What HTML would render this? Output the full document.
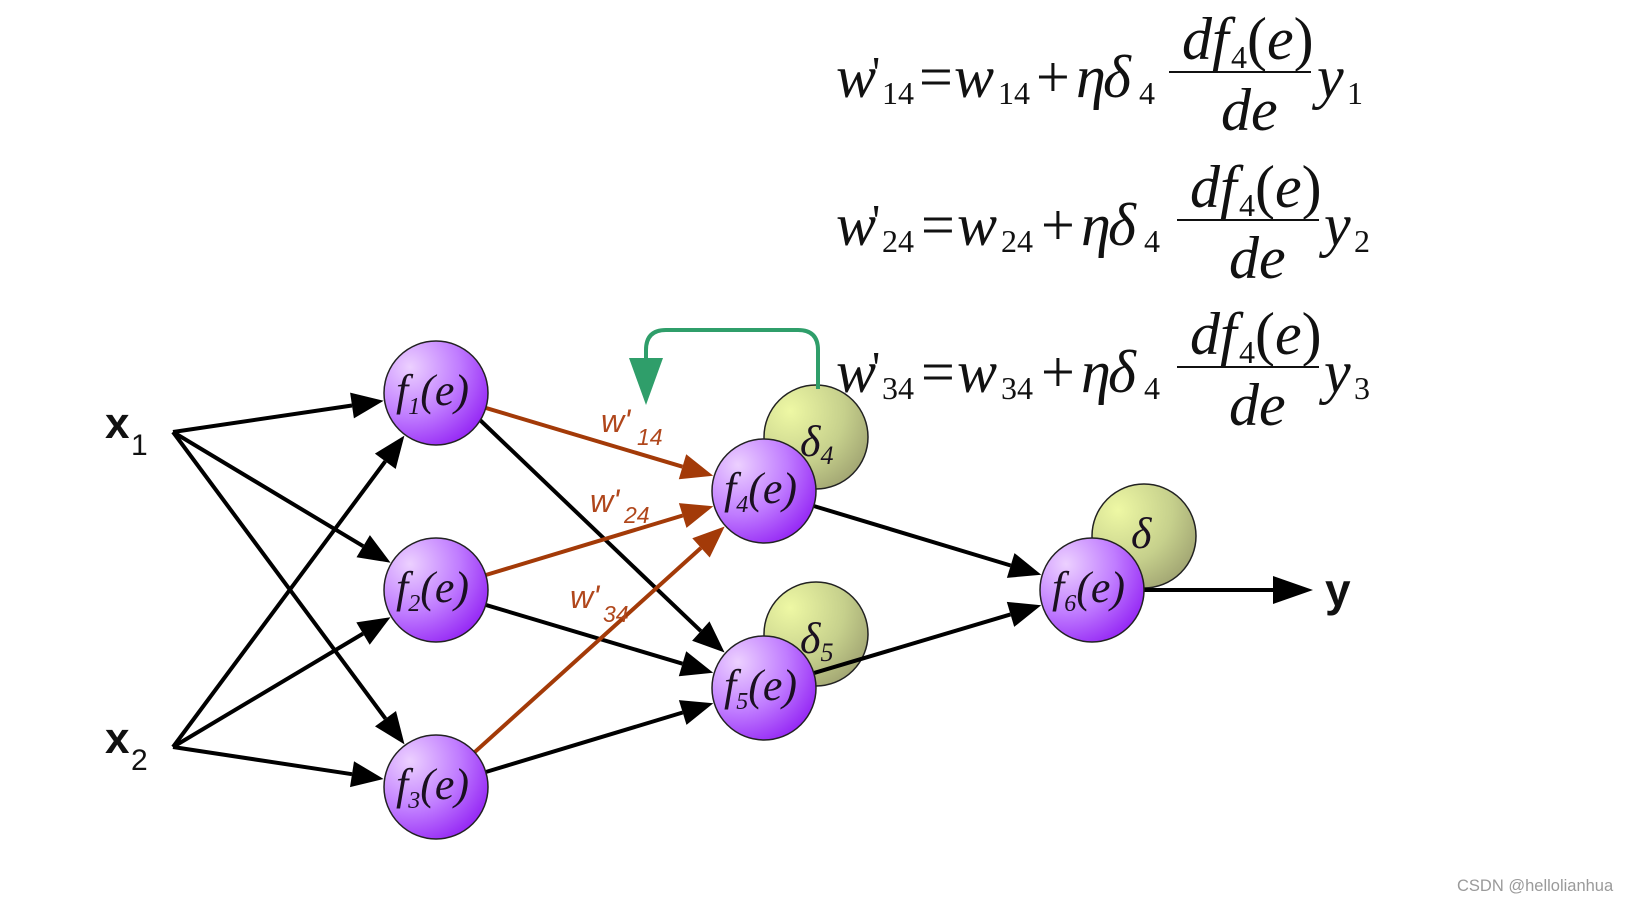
<!DOCTYPE html>
<html><head><meta charset="utf-8"><style>
html,body{margin:0;padding:0;background:#fff;}
svg{display:block;}
.eq{font-family:"Liberation Serif",serif;font-size:60px;fill:#111;}
.it{font-style:italic;}
.sub{font-size:32px;font-style:normal;}
.wl{font-family:"Liberation Sans",sans-serif;font-style:italic;fill:#b0471c;}
.fl{font-family:"Liberation Serif",serif;font-style:italic;font-size:44px;fill:#1a1020;}
</style></head><body>
<svg width="1632" height="901" viewBox="0 0 1632 901" xmlns="http://www.w3.org/2000/svg">
<defs>
<radialGradient id="pg" cx="0.25" cy="0.25" r="0.95">
<stop offset="0" stop-color="#ecd0ff"/><stop offset="0.5" stop-color="#c07cff"/><stop offset="1" stop-color="#8a12f2"/>
</radialGradient>
<radialGradient id="gg" cx="0.25" cy="0.25" r="0.95">
<stop offset="0" stop-color="#eef8a4"/><stop offset="0.55" stop-color="#c6d08c"/><stop offset="1" stop-color="#989a6c"/>
</radialGradient>
</defs>

<g class="eq">
<g>
<text x="836" y="97" class="it">w</text><text x="872" y="88" font-size="46">'</text>
<text x="882" y="104" class="sub">14</text>
<text x="919" y="97">=</text>
<text x="954" y="97" class="it">w</text><text x="998" y="104" class="sub">14</text>
<text x="1036" y="97">+</text>
<text x="1076" y="97" class="it">η</text><text x="1103" y="97" class="it">δ</text><text x="1139" y="104" class="sub">4</text>
<line x1="1169" y1="72" x2="1311" y2="72" stroke="#111" stroke-width="2"/>
<text x="1182" y="59" class="it">df</text><text x="1231" y="68" class="sub">4</text><text x="1247" y="59">(<tspan class="it">e</tspan>)</text>
<text x="1221" y="130" class="it">de</text>
<text x="1317" y="97" class="it">y</text><text x="1347" y="104" class="sub">1</text>
</g>
<g transform="translate(0,148)">
<text x="836" y="97" class="it">w</text><text x="872" y="88" font-size="46">'</text>
<text x="882" y="104" class="sub">24</text>
<text x="921" y="97">=</text>
<text x="957" y="97" class="it">w</text><text x="1001" y="104" class="sub">24</text>
<text x="1041" y="97">+</text>
<text x="1081" y="97" class="it">η</text><text x="1108" y="97" class="it">δ</text><text x="1144" y="104" class="sub">4</text>
<line x1="1177" y1="72" x2="1319" y2="72" stroke="#111" stroke-width="2"/>
<text x="1190" y="59" class="it">df</text><text x="1239" y="68" class="sub">4</text><text x="1255" y="59">(<tspan class="it">e</tspan>)</text>
<text x="1229" y="130" class="it">de</text>
<text x="1324" y="97" class="it">y</text><text x="1354" y="104" class="sub">2</text>
</g>
<g transform="translate(0,295)">
<text x="836" y="97" class="it">w</text><text x="872" y="88" font-size="46">'</text>
<text x="882" y="104" class="sub">34</text>
<text x="921" y="97">=</text>
<text x="957" y="97" class="it">w</text><text x="1001" y="104" class="sub">34</text>
<text x="1041" y="97">+</text>
<text x="1081" y="97" class="it">η</text><text x="1108" y="97" class="it">δ</text><text x="1144" y="104" class="sub">4</text>
<line x1="1177" y1="72" x2="1319" y2="72" stroke="#111" stroke-width="2"/>
<text x="1190" y="59" class="it">df</text><text x="1239" y="68" class="sub">4</text><text x="1255" y="59">(<tspan class="it">e</tspan>)</text>
<text x="1229" y="130" class="it">de</text>
<text x="1324" y="97" class="it">y</text><text x="1354" y="104" class="sub">3</text>
</g>
</g>

<g stroke="#222" stroke-width="1.5" fill="url(#gg)">
<circle cx="816" cy="437" r="52"/>
<circle cx="816" cy="634" r="52"/>
<circle cx="1144" cy="536" r="52"/>
</g>
<g class="fl">
<text x="800" y="456">δ<tspan font-size="26" dy="8">4</tspan></text>
<text x="800" y="653">δ<tspan font-size="26" dy="8">5</tspan></text>
<text x="1131" y="548">δ</text>
</g>

<path d="M818,389 V350 Q818,330 798,330 H666 Q646,330 646,350 V362" fill="none" stroke="#2f9e6a" stroke-width="4"/>
<polygon points="646,405 629,358 663,358" fill="#2f9e6a"/>

<g stroke="#000" stroke-width="4" fill="none">
<line x1="173" y1="432" x2="352" y2="405.5"/>
<line x1="173" y1="432" x2="363.2" y2="546.2"/>
<line x1="173" y1="432" x2="385.5" y2="718.7"/>
<line x1="173" y1="747" x2="385.3" y2="461.3"/>
<line x1="173" y1="747" x2="363" y2="633.6"/>
<line x1="173" y1="747" x2="352" y2="774.2"/>
<line x1="480" y1="420" x2="700.8" y2="631.1"/>
<line x1="485.8" y1="604.9" x2="682.5" y2="663.7"/>
<line x1="485.8" y1="772" x2="682.7" y2="712.5"/>
<line x1="813.8" y1="506" x2="1010.7" y2="565.5"/>
<line x1="813.8" y1="673.1" x2="1010.5" y2="614.4"/>
<line x1="1140" y1="590" x2="1275" y2="590"/>
</g>
<g fill="#000">
<polygon points="383.6,400.8 353.9,418.4 350.1,392.6"/>
<polygon points="390.6,562.7 356.5,557.3 369.9,535.1"/>
<polygon points="404.5,744.4 375,726.4 396,711"/>
<polygon points="404.4,435.6 395.7,469 374.9,453.6"/>
<polygon points="390.5,617.2 369.7,644.8 356.3,622.4"/>
<polygon points="383.6,779 350,787.1 354,761.3"/>
<polygon points="724.6,652.5 692.1,640.8 709.5,621.4"/>
<polygon points="713.2,672.8 678.8,676.2 686.2,651.2"/>
<polygon points="713.3,703.3 686.5,724.9 678.9,700.1"/>
<polygon points="1041.3,574.7 1006.9,577.9 1014.5,553.1"/>
<polygon points="1041.2,605.2 1014.2,626.9 1006.8,601.9"/>
<polygon points="1313,590 1273,576 1273,604"/>
</g>

<g stroke="#a33a08" stroke-width="4" fill="none">
<line x1="485.8" y1="407.9" x2="682.5" y2="466.7"/>
<line x1="485.8" y1="575" x2="682.7" y2="515.5"/>
<line x1="474.6" y1="752.2" x2="701" y2="547.9"/>
</g>
<g fill="#a33a08">
<polygon points="713.2,475.8 678.8,479.2 686.2,454.2"/>
<polygon points="713.3,506.3 686.5,527.9 678.9,503.1"/>
<polygon points="724.7,526.5 709.7,557.5 692.3,538.3"/>
</g>

<g class="wl">
<text x="601" y="432" font-size="32">w'</text><text x="637" y="445" font-size="23">14</text>
<text x="590" y="512" font-size="32">w'</text><text x="624" y="523" font-size="23">24</text>
<text x="570" y="608" font-size="32">w'</text><text x="603" y="622" font-size="23">34</text>
</g>

<g stroke="#222" stroke-width="1.5" fill="url(#pg)">
<circle cx="436" cy="393" r="52"/>
<circle cx="436" cy="590" r="52"/>
<circle cx="436" cy="787" r="52"/>
<circle cx="764" cy="491" r="52"/>
<circle cx="764" cy="688" r="52"/>
<circle cx="1092" cy="590" r="52"/>
</g>
<g class="fl">
<text x="396" y="405">f<tspan font-size="24" dy="9">1</tspan><tspan dy="-9">(e)</tspan></text>
<text x="396" y="602">f<tspan font-size="24" dy="9">2</tspan><tspan dy="-9">(e)</tspan></text>
<text x="396" y="799">f<tspan font-size="24" dy="9">3</tspan><tspan dy="-9">(e)</tspan></text>
<text x="724" y="503">f<tspan font-size="24" dy="9">4</tspan><tspan dy="-9">(e)</tspan></text>
<text x="724" y="700">f<tspan font-size="24" dy="9">5</tspan><tspan dy="-9">(e)</tspan></text>
<text x="1052" y="602">f<tspan font-size="24" dy="9">6</tspan><tspan dy="-9">(e)</tspan></text>
</g>

<g font-family="Liberation Sans, sans-serif" font-weight="bold" fill="#111">
<text x="105" y="438" font-size="44">x</text><text x="131" y="455" font-size="30" font-weight="normal">1</text>
<text x="105" y="753" font-size="44">x</text><text x="131" y="770" font-size="30" font-weight="normal">2</text>
<text x="1325" y="606" font-size="46">y</text>
</g>

<text x="1457" y="891" font-family="Liberation Sans, sans-serif" font-size="16.5" fill="#9a9a9a">CSDN @hellolianhua</text>
</svg>
</body></html>
